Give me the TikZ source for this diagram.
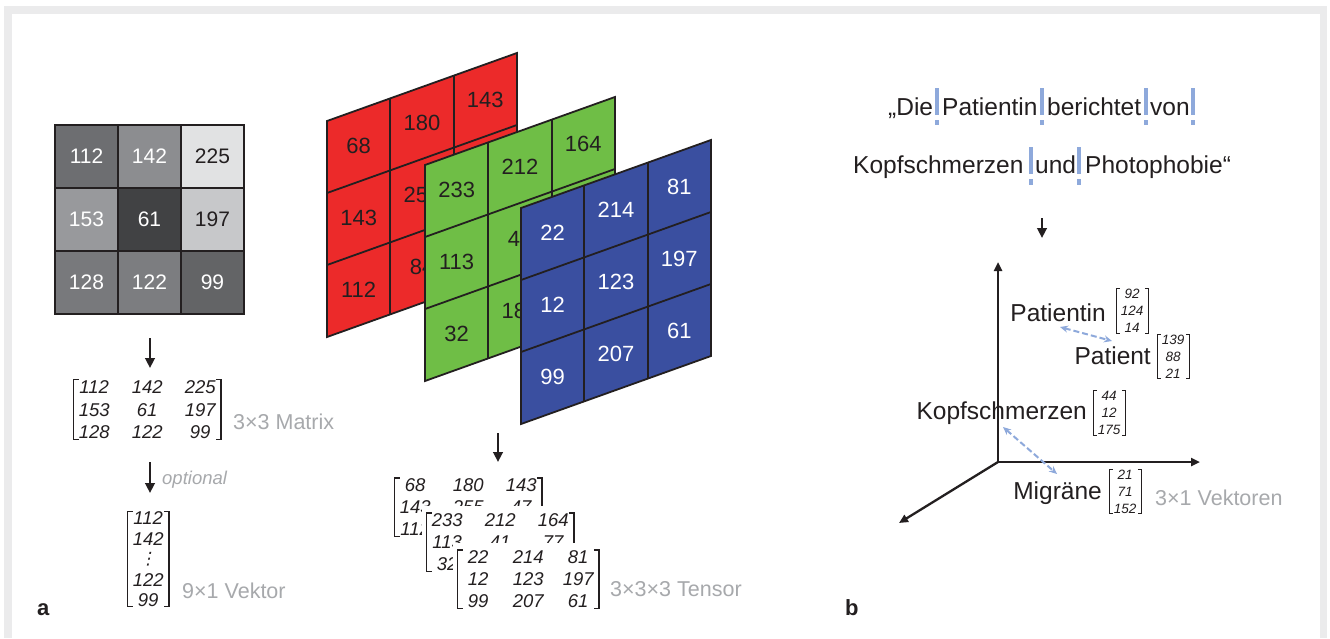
\documentclass[tikz,border=0pt]{standalone}
\usepackage{fontspec}
\setmainfont{Liberation Sans}
\newfontfamily\dejavu[FakeSlant=0.2]{DejaVu Sans}
\usetikzlibrary{matrix,calc,arrows.meta}
\definecolor{frame}{HTML}{EBEBEC}
\definecolor{ink}{HTML}{231F20}
\definecolor{lbl}{HTML}{A7A9AC}
\definecolor{lblue}{HTML}{8EA9DB}
\definecolor{pred}{HTML}{EC2A2A}
\definecolor{pgreen}{HTML}{6FBE46}
\definecolor{pblue}{HTML}{3A4FA0}
\definecolor{ga}{HTML}{6D6E71}
\definecolor{gb}{HTML}{8C8D90}
\definecolor{gc}{HTML}{E1E2E3}
\definecolor{gd}{HTML}{98999C}
\definecolor{ge}{HTML}{414244}
\definecolor{gf}{HTML}{C7C8CA}
\definecolor{gg}{HTML}{78797C}
\definecolor{gh}{HTML}{7C7D80}
\definecolor{gi}{HTML}{636466}
\newcommand\fsz[1]{\fontsize{#1}{#1}\selectfont}
\newcommand\matfont{\itshape\fsz{18.5}}
\newcommand\vecfont{\itshape\fsz{13.5}}
\newcommand\bracks[5]{%
 \draw[brak,line width=#5] ($(#1.north west)+(#2+#4,-#3)$) -- ($(#1.north west)+(#2,-#3)$) -- ($(#1.south west)+(#2,#3)$) -- ($(#1.south west)+(#2+#4,#3)$);
 \draw[brak,line width=#5] ($(#1.north east)+(-#2-#4,-#3)$) -- ($(#1.north east)+(-#2,-#3)$) -- ($(#1.south east)+(-#2,#3)$) -- ($(#1.south east)+(-#2-#4,#3)$);}
\newcommand\planegrid[2]{%
 \fill[#2] (0,0) rectangle (190,216);
 \draw[cellline] (0,0) rectangle (190,216);
 \foreach \k in {1,2}{\draw[cellline] ({63.333*\k},0) -- ({63.333*\k},216); \draw[cellline] (0,{72*\k}) -- (190,{72*\k});}}
\tikzset{
 every node/.style={inner sep=0pt},
 gridnum/.style={font=\fsz{21}},
 planenum/.style={font=\fsz{22}},
 graylbl/.style={font=\fsz{21.5}, text=lbl, anchor=base west},
 word/.style={font=\fsz{24.5}, text=ink, anchor=base west},
 axlbl/.style={font=\fsz{24.5}, text=ink, anchor=base east},
 panellbl/.style={font=\bfseries\fsz{22}, text=ink, anchor=base west},
 bigarrow/.style={draw=ink, line width=2.6pt, -{Triangle[length=10pt,width=9.5pt]}},
 axis/.style={draw=ink, line width=2.3pt, -{Triangle[length=9pt,width=8pt]}},
 simarrow/.style={draw=lblue, line width=2pt, dash pattern=on 6pt off 3pt, {Stealth[length=8pt,width=7pt]}-{Stealth[length=8pt,width=7pt]}},
 wsep/.style={draw=lblue, line width=3.6pt, dash pattern=on 27pt off 5pt on 6pt off 30pt},
 cellline/.style={draw=ink, line width=1.8pt},
 brak/.style={draw=ink},
 mat/.style={matrix of nodes, inner xsep=8pt, inner ysep=3pt, column sep=19pt, row sep=0pt, fill=white, nodes={font=\matfont, text=ink, minimum width=34pt, minimum height=22pt, inner sep=0pt, anchor=center}},
 vec/.style={matrix of nodes, inner xsep=4pt, inner ysep=0pt, row sep=0pt, anchor=west, nodes={font=\vecfont, text=ink, minimum width=24pt, minimum height=17pt, inner sep=0pt, anchor=center}},
}
\begin{document}
\begin{tikzpicture}[x=1pt,y=-1pt]
\useasboundingbox (0,0) rectangle (1330,638);
\fill[white] (0,0) rectangle (1330,638);
\fill[frame] (4,6) rectangle (1327,638);
\fill[white] (12,14) rectangle (1320,638);

% ---------- gray image grid ----------
\foreach \v/\c/\i/\j/\t in {112/ga/0/0/white, 142/gb/1/0/white, 225/gc/2/0/ink, 153/gd/0/1/white, 61/ge/1/1/white, 197/gf/2/1/ink, 128/gg/0/2/white, 122/gh/1/2/white, 99/gi/2/2/white}{
 \fill[\c] ({55+63*\i},{125+63*\j}) rectangle ++(63,63);
 \node[gridnum, text=\t] (g\i\j) at ({86.5+63*\i},{156.5+63*\j}) {\v};
}
\draw[cellline] (55,125) rectangle (244,314);
\foreach \k in {1,2}{\draw[cellline] ({55+63*\k},125) -- ++(0,189); \draw[cellline] (55,{125+63*\k}) -- ++(189,0);}

\coordinate (a1s) at (150,338); \coordinate (a1e) at (150,368);
\draw[bigarrow] (a1s) -- (a1e);

\matrix[mat, nodes={minimum height=22.5pt}, anchor=north west] (lm) at (69,372.75) {112 & 142 & 225\\153 & 61 & 197\\128 & 122 & 99\\};
\bracks{lm}{4.5pt}{7pt}{5pt}{1.4pt}
\node[graylbl] (lmat) at (233,429) {3×3 Matrix};

\coordinate (a2s) at (150,462); \coordinate (a2e) at (150,493);
\draw[bigarrow] (a2s) -- (a2e);
\node[font=\itshape\fsz{18.5}, text=lbl, anchor=base west] (lopt) at (162,484) {optional};

\matrix[mat, nodes={minimum height=20.5pt}, anchor=north west] (v9) at (123,504.75) {112\\142\\{\dejavu\fsz{17}⋮}\\122\\99\\};
\bracks{v9}{4.5pt}{7pt}{5pt}{1.4pt}
\node[graylbl] (lv9) at (182,598) {9×1 Vektor};
\node[panellbl] (la) at (37,615) {a};

% ---------- RGB planes ----------
\begin{scope}[shift={(327,121)}, yslant=0.358]
 \planegrid{r}{pred}
 \foreach \i/\j/\v in {0/0/68, 1/0/180, 2/0/143, 0/1/143, 1/1/255, 0/2/112, 1/2/84}{
  \node[planenum, text=ink] (r\i\j) at ({31.667+63.333*\i},{36+72*\j}) {\v};}
\end{scope}
\begin{scope}[shift={(425,165)}, yslant=0.358]
 \planegrid{gr}{pgreen}
 \foreach \i/\j/\v in {0/0/233, 1/0/212, 2/0/164, 0/1/113, 1/1/41, 0/2/32, 1/2/185}{
  \node[planenum, text=ink] (gn\i\j) at ({31.667+63.333*\i},{36+72*\j}) {\v};}
\end{scope}
\begin{scope}[shift={(521,208)}, yslant=0.358]
 \planegrid{b}{pblue}
 \foreach \i/\j/\v in {0/0/22, 1/0/214, 2/0/81, 0/1/12, 1/1/123, 2/1/197, 0/2/99, 1/2/207, 2/2/61}{
  \node[planenum, text=white] (bn\i\j) at ({31.667+63.333*\i},{36+72*\j}) {\v};}
\end{scope}

\coordinate (a3s) at (498,433); \coordinate (a3e) at (498,462);
\draw[bigarrow] (a3s) -- (a3e);

\matrix[mat, anchor=north west] (m1) at (390,471) {68 & 180 & 143\\143 & 255 & 47\\112 & 84 & \\};
\bracks{m1}{4.5pt}{7pt}{5pt}{1.4pt}
\matrix[mat, anchor=north west] (m2) at (422,506) {233 & 212 & 164\\113 & 41 & 77\\32 & & \\};
\bracks{m2}{4.5pt}{7pt}{5pt}{1.4pt}
\matrix[mat, column sep=16pt, anchor=north west] (m3) at (453,543) {22 & 214 & 81\\12 & 123 & 197\\99 & 207 & 61\\};
\bracks{m3}{4.5pt}{7pt}{5pt}{1.4pt}
\node[graylbl] (lten) at (610,596) {3×3×3 Tensor};

% ---------- right panel ----------
\node[word] (w1) at (888,115) {„Die};
\node[word] (w2) at (942,115) {Patientin};
\node[word] (w3) at (1047,115) {berichtet};
\node[word] (w4) at (1150,115) {von};
\node[word] (w5) at (853,173) {Kopfschmerzen};
\node[word] (w6) at (1035,173) {und};
\node[word] (w7) at (1085,173) {Photophobie“};
\foreach \x in {937,1042,1146,1193}{\draw[wsep] (\x,88) -- (\x,125);}
\foreach \x in {1031,1079}{\draw[wsep] (\x,147) -- (\x,185);}

\coordinate (a4s) at (1042,218); \coordinate (a4e) at (1042,238);
\draw[bigarrow] (a4s) -- (a4e);

\coordinate (O) at (998,462);
\coordinate (ay) at (998,262);
\coordinate (ax) at (1200,462);
\coordinate (az) at (899,523);
\draw[axis] (O) -- (ay);
\draw[axis] (O) -- (ax);
\draw[axis] (O) -- (az);

\node[axlbl] (lpatientin) at (1106,321) {Patientin};
\matrix[vec] (vp1) at (1116,311) {92\\124\\14\\};
\bracks{vp1}{0pt}{3.5pt}{3.5pt}{1pt}
\node[axlbl] (lpatient) at (1151,364) {Patient};
\matrix[vec] (vp2) at (1157,356.5) {139\\88\\21\\};
\bracks{vp2}{0pt}{3.5pt}{3.5pt}{1pt}
\node[axlbl] (lkopf) at (1087,419) {Kopfschmerzen};
\matrix[vec] (vk) at (1093,413) {44\\12\\175\\};
\bracks{vk}{0pt}{3.5pt}{3.5pt}{1pt}
\node[axlbl] (lmig) at (1102,499) {Migräne};
\matrix[vec] (vm) at (1109,491.5) {21\\71\\152\\};
\bracks{vm}{0pt}{3.5pt}{3.5pt}{1pt}
\node[graylbl] (lvek) at (1155,505) {3×1 Vektoren};

\coordinate (s1a) at (1060,327); \coordinate (s1b) at (1112,341);
\draw[simarrow] (s1a) -- (s1b);
\coordinate (s2a) at (1003,427); \coordinate (s2b) at (1057,474);
\draw[simarrow] (s2a) -- (s2b);

\node[panellbl] (lb) at (845,615) {b};
\end{tikzpicture}
\end{document}
